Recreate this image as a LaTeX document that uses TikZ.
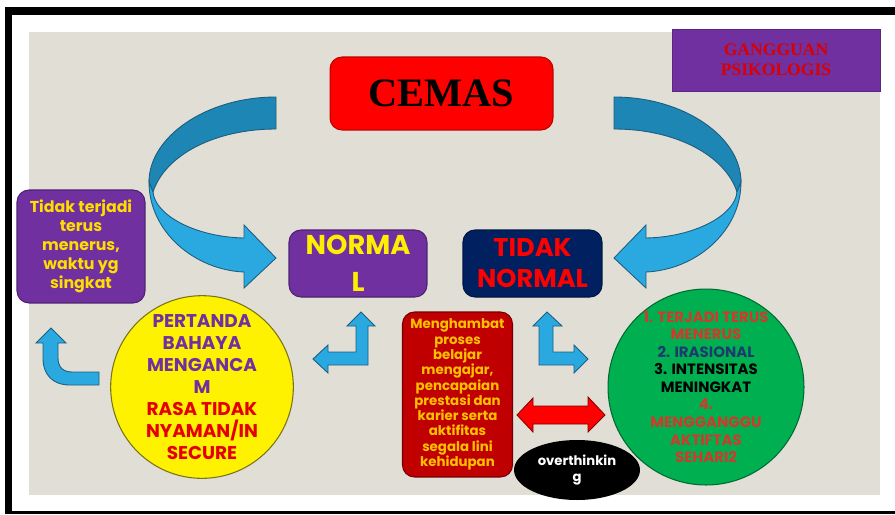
\documentclass[tikz,border=0pt]{standalone}
\usepackage{fontspec}
\setmainfont{Poppins}
\newfontfamily\timesbf{Liberation Serif}
\usetikzlibrary{shapes.geometric}
\definecolor{bgray}{HTML}{E1DED5}
\definecolor{arrowblue}{HTML}{2AA9E0}
\definecolor{darkblue}{HTML}{1D86B4}
\definecolor{edgeblue}{HTML}{1B5E80}
\definecolor{ungu}{HTML}{7030A0}
\definecolor{navy}{HTML}{002060}
\definecolor{merah}{HTML}{C00000}
\definecolor{kuning}{HTML}{FFEE00}
\definecolor{emas}{HTML}{FFC000}
\definecolor{hijau}{HTML}{00B050}
\definecolor{bata}{HTML}{D03A2A}
\definecolor{biru}{HTML}{1F3A6E}
\tikzset{
  blok/.style={rectangle,rounded corners=0.24cm,line width=0.6pt,align=center,inner sep=0pt},
  bulat/.style={circle,line width=0.6pt,align=center,inner sep=0pt},
  blueshape/.style={fill=arrowblue,draw=edgeblue,line width=0.5pt},
  bandback/.style={fill=darkblue,draw=edgeblue,line width=0.5pt}
}

\begin{document}
\begin{tikzpicture}[x=0.02cm,y=-0.02cm]
            \useasboundingbox (0,0) rectangle (895,514);
            \fill[white] (0,0) rectangle (895,514);
            \fill[black] (5,7) rectangle (895,514);
            \fill[white] (12,15) rectangle (895,511);
            \fill[bgray] (29,32) rectangle (880,495);
            \foreach \s/\o in {1/0,-1/890}{
                \begin{scope}[shift={(\o,0)},xscale=\s]
                    \filldraw[bandback] (276,97) .. controls (206,97) and (149,137) .. (149,182) -- (153,192) .. controls (165,155) and (215,129) .. (276,129) -- cycle;
                    \filldraw[blueshape] (149,182) .. controls (149,232) and (195,270) .. (244,272) -- (244,288) -- (276,258) -- (244,225) -- (244,238) .. controls (195,237) and (155,215) .. (153,192) -- cycle;
                \end{scope}
            }
            \node[blok,fill=red,draw=merah,minimum width=4.46cm,minimum height=1.46cm,font=\timesbf\bfseries\fontsize{23}{26}\selectfont] (cemas) at (441.5,93.5) {CEMAS};
            \node[rectangle,fill=ungu,draw=ungu!80!black,minimum width=4.16cm,minimum height=1.24cm,align=center,text=red!85!black,font=\timesbf\bfseries\fontsize{10}{11.3}\selectfont] (gangguan) at (776,60) {GANGGUAN\\PSIKOLOGIS};
            \node[blok,fill=ungu,draw=ungu!70!black,minimum width=2.76cm,minimum height=1.34cm,text=kuning,font=\bfseries\fontsize{15.5}{21}\selectfont] (normal) at (358,263.5) {NORMA\\L};
            \node[blok,fill=navy,draw=navy!70!black,minimum width=2.78cm,minimum height=1.34cm,text=red,font=\bfseries\fontsize{14.6}{17.6}\selectfont] (tidaknormal) at (532.5,263.5) {TIDAK\\NORMAL};
            \node[blok,fill=ungu,draw=ungu!70!black,minimum width=2.56cm,minimum height=2.26cm,text=kuning!85!orange,font=\bfseries\fontsize{9}{10.8}\selectfont] (singkat) at (81,246.5) {Tidak terjadi\\terus\\menerus,\\waktu yg\\singkat};
            \node[blok,fill=merah,draw=merah!60!black,minimum width=2.2cm,minimum height=3.3cm,text=emas,font=\bfseries\fontsize{7.6}{8.7}\selectfont] (hambat) at (457.5,394.5) {Menghambat\\proses\\belajar\\mengajar,\\pencapaian\\prestasi dan\\karier serta\\aktifitas\\segala lini\\kehidupan};
            \node[bulat,fill=yellow,draw=olive!80!black,minimum size=3.64cm,font=\bfseries\fontsize{10.5}{12.5}\selectfont] (pertanda) at (202,387) {\textcolor{ungu}{PERTANDA}\\\textcolor{ungu}{BAHAYA}\\\textcolor{ungu}{MENGANCA}\\\textcolor{ungu}{M}\\\textcolor{red!90!black}{RASA TIDAK}\\\textcolor{red!90!black}{NYAMAN/IN}\\\textcolor{red!90!black}{SECURE}};
            \node[bulat,fill=hijau,draw=hijau!60!black,minimum size=3.68cm,font=\bfseries\fontsize{8.5}{10}\selectfont] (gejala) at (706,387) {\textcolor{bata}{1. TERJADI TERUS}\\\textcolor{bata}{MENERUS}\\\textcolor{biru}{2. IRASIONAL}\\3. INTENSITAS\\MENINGKAT\\\textcolor{bata}{4.}\\\textcolor{bata}{MENGGANGGU}\\\textcolor{bata}{AKTIFTAS}\\\textcolor{bata}{SEHARI2}};
            \node[ellipse,fill=black,minimum width=2.52cm,minimum height=1.2cm,inner sep=0pt,align=center,text=white,font=\bfseries\fontsize{7.5}{9}\selectfont] (overthink) at (577,470) {overthinkin\\g};
            \filldraw[blueshape] (99,372) -- (72,372) .. controls (63,372) and (58,367) .. (58,358) -- (58,343) -- (66,343) -- (51,328) -- (36,343) -- (43,343) -- (43,358) .. controls (43,375) and (53,385) .. (70,385) -- (99,385) -- cycle;
            \filldraw[blueshape] (361,312) -- (375,326) -- (368,326) -- (368,365) -- (328,365) -- (328,373) -- (313,359) -- (328,345) -- (328,352) -- (356,352) -- (356,326) -- (347,326) -- cycle;
            \filldraw[blueshape] (547,312) -- (562,326) -- (553,326) -- (553,352) -- (574,352) -- (574,345) -- (588,359) -- (574,373) -- (574,365) -- (539,365) -- (539,326) -- (533,326) -- cycle;
            \filldraw[fill=red,draw=merah!70!black,line width=0.5pt] (517,415) -- (533,398) -- (533,406) -- (588,406) -- (588,397) -- (605,415) -- (588,432) -- (588,424) -- (533,424) -- (533,432) -- cycle;
        \end{tikzpicture}
\end{document}
